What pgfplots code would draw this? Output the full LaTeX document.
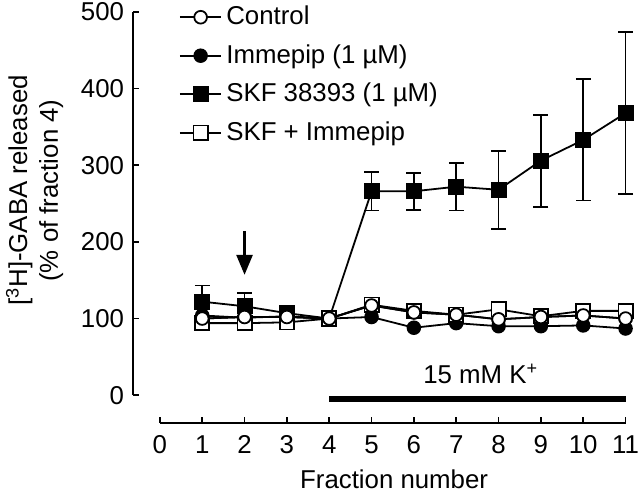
\documentclass[border=0pt]{standalone}
\usepackage{fontspec}
\setmainfont{Liberation Sans}
\usepackage{pgfplots}
\pgfplotsset{compat=1.18}
\usetikzlibrary{arrows.meta}
\begin{document}
\fontsize{13}{15.5}\selectfont
\begin{tikzpicture}
\begin{axis}[
    scale only axis,
    width=234.5pt, height=193pt,
    xmin=0, xmax=11, ymin=0, ymax=500,
    axis lines=left,
    axis line style={-, line width=0.9pt},
    axis x line shift=14pt,
    axis y line shift=13.5pt,
    xtick={0,...,11}, ytick={0,100,...,500},
    tick align=inside, major tick length=3pt,
    tick style={line width=0.9pt, black},
    ticklabel style={font=\fontsize{13}{15}\selectfont},
    xticklabel style={yshift=-2pt},
    /pgf/number format/assume math mode=true,
    clip=false,
    xlabel={Fraction number},
    xlabel style={at={(rel axis cs:0.503,-0.22)}, anchor=center},
    ylabel={[\textsuperscript{3}H]-GABA released\\(\% of fraction 4)},
    ylabel style={align=center, at={(rel axis cs:-0.269,0.534)}, anchor=center},
    legend style={draw=none, fill=none, at={(rel axis cs:0.04,1.027)},
        anchor=north west, row sep=4pt, inner sep=0pt},
    legend cell align=left,
    legend image code/.code={
        \draw[mark repeat=2,mark phase=2] plot coordinates {(0pt,0pt) (10.5pt,0pt) (21pt,0pt)};},
    every axis plot/.append style={black, line width=0.9pt},
]
\addplot[mark=*, mark size=3.2pt, mark options={fill=white}] coordinates {
    (1,100) (2,102) (3,102) (4,100) (5,117) (6,108)
    (7,105) (8,99) (9,102) (10,104) (11,100)
};
\addplot[mark=*, mark size=3.2pt, mark options={fill=black}] coordinates {
    (1,104) (2,101) (3,103) (4,100) (5,102) (6,88)
    (7,94) (8,90) (9,90) (10,91) (11,87)
};
\addplot[mark=square*, mark size=3.6pt, mark options={fill=black},
    error bars/.cd, y dir=both, y explicit,
    error bar style={line width=0.9pt},
    error mark options={rotate=90, mark size=3.75pt, line width=0.9pt}] coordinates {
    (1,122) +- (0,21)
    (2,116) +- (0,17)
    (3,107) +- (0,6)
    (4,100) +- (0,0)
    (5,266) +- (0,25)
    (6,266) +- (0,24)
    (7,272) +- (0,31)
    (8,268) +- (0,51)
    (9,306) +- (0,60)
    (10,333) +- (0,79)
    (11,368) +- (0,106)
};
\addplot[mark=square*, mark size=3.6pt, mark options={fill=white}] coordinates {
    (1,94) (2,94) (3,95) (4,100) (5,118) (6,110)
    (7,105) (8,112) (9,103) (10,110) (11,110)
};
\legend{Control, Immepip (1 \textmu M), SKF 38393 (1 \textmu M), SKF + Immepip}
% control circles on top again
\addplot[forget plot, mark=*, mark size=3.2pt, mark options={fill=white}] coordinates {
    (1,100) (2,102) (3,102) (4,100) (5,117) (6,108)
    (7,105) (8,99) (9,102) (10,104) (11,100)
};
% annotations
\draw[line width=1.3pt, -{Triangle[length=10pt,width=8pt]}] (axis cs:2,214) -- (axis cs:2,157);
\draw[line width=3.3pt] (axis cs:4,-5) -- (axis cs:11,-5);
\node at (axis cs:7.58,27.6) {15 mM K\textsuperscript{+}};
\coordinate (bbl) at (rel axis cs:-0.3433,-0.262);
\coordinate (btr) at (rel axis cs:1.031,1.0311);
\end{axis}
\pgfresetboundingbox
\path[use as bounding box] (bbl) rectangle (btr);
\end{tikzpicture}
\end{document}
